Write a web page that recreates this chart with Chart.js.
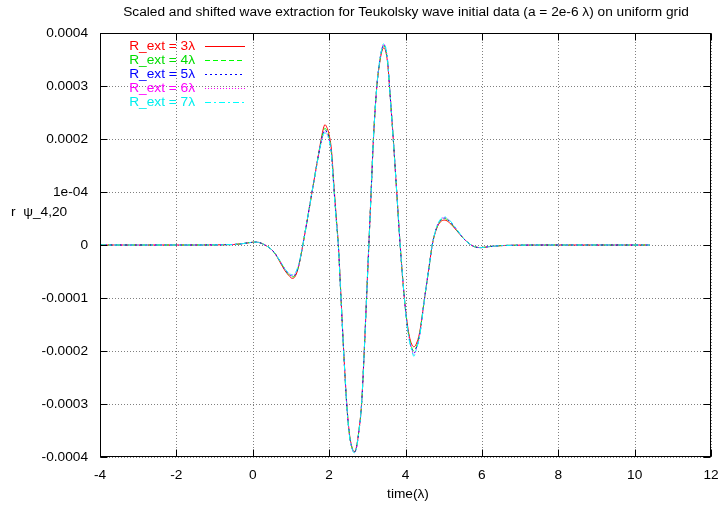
<!DOCTYPE html>
<html><head><meta charset="utf-8">
<script src="https://cdn.jsdelivr.net/npm/chart.js@4/dist/chart.umd.min.js"></script>
<style>html,body{margin:0;padding:0;background:#fff}canvas{display:block}</style>
</head><body>
<canvas id="c" width="722" height="506"></canvas>
<script>
const titleText = 'Scaled and shifted wave extraction for Teukolsky wave initial data (a = 2e-6 \u03bb) on uniform grid';
const xLabel = 'time(\u03bb)';
const yLabel = 'r  \u03c8_4,20';
const seriesNames = ['R_ext = 3\u03bb','R_ext = 4\u03bb','R_ext = 5\u03bb','R_ext = 6\u03bb','R_ext = 7\u03bb'];
const xTickValues = [-4,-2,0,2,4,6,8,10,12];
const xTickLabels = ['-4','-2','0','2','4','6','8','10','12'];
const yTickValues = [-0.0004,-0.0003,-0.0002,-0.0001,0,0.0001,0.0002,0.0003,0.0004];
const yTickLabels = ['-0.0004','-0.0003','-0.0002','-0.0001','0','1e-04','0.0002','0.0003','0.0004'];

const times = [-4,-3,-2,-1.5,-1,-0.75,-0.5,-0.3,-0.15,0,0.07,0.15,0.25,0.33,0.45,0.55,0.65,0.75,0.85,0.95,
1.04,1.12,1.2,1.25,1.3,1.4,1.5,1.6,1.7,1.78,1.84,1.89,1.94,2.0,2.06,2.13,2.2,2.24,2.31,2.38,
2.46,2.53,2.6,2.655,2.71,2.78,2.85,2.92,2.98,3.04,3.1,3.16,3.25,3.32,3.38,3.43,3.48,3.54,3.58,3.68,
3.77,3.86,3.97,4.04,4.1,4.16,4.22,4.28,4.37,4.5,4.63,4.7,4.81,4.92,5.03,5.15,5.33,5.51,5.68,5.8,
5.96,6.2,6.5,7,7.5,8,9,10,10.4];

const r3 = [0,0,0,0,0.002e-4,0.005e-4,0.01e-4,0.022e-4,0.038e-4,0.052e-4,0.056e-4,0.05e-4,0.025e-4,-0.005e-4,-0.06e-4,-0.13e-4,-0.24e-4,-0.37e-4,-0.49e-4,-0.58e-4,
-0.63e-4,-0.58e-4,-0.41e-4,-0.24e-4,-0.05e-4,0.36e-4,0.78e-4,1.20e-4,1.62e-4,1.95e-4,2.17e-4,2.27e-4,2.22e-4,2.08e-4,1.80e-4,1.08e-4,0.40e-4,0.03e-4,-0.97e-4,-1.98e-4,
-2.98e-4,-3.55e-4,-3.82e-4,-3.90e-4,-3.83e-4,-3.50e-4,-3.00e-4,-2.00e-4,-1.00e-4,0.0,1.0e-4,2.0e-4,3.0e-4,3.42e-4,3.65e-4,3.72e-4,3.66e-4,3.38e-4,3.0e-4,2.0e-4,
1.0e-4,0.0,-1.0e-4,-1.45e-4,-1.72e-4,-1.87e-4,-1.92e-4,-1.87e-4,-1.65e-4,-1.0e-4,-0.35e-4,0.0,0.30e-4,0.44e-4,0.47e-4,0.42e-4,0.28e-4,0.13e-4,0.02e-4,-0.03e-4,
-0.05e-4,-0.03e-4,-0.012e-4,-0.003e-4,0,0,0,0,0];

const r4 = [0,0,0,0,0.002e-4,0.005e-4,0.01e-4,0.022e-4,0.038e-4,0.052e-4,0.056e-4,0.05e-4,0.025e-4,-0.005e-4,-0.06e-4,-0.13e-4,-0.23e-4,-0.35e-4,-0.47e-4,-0.56e-4,
-0.60e-4,-0.56e-4,-0.40e-4,-0.23e-4,-0.04e-4,0.36e-4,0.78e-4,1.20e-4,1.61e-4,1.92e-4,2.12e-4,2.20e-4,2.16e-4,2.03e-4,1.74e-4,1.03e-4,0.37e-4,0.0,-1.0e-4,-2.0e-4,
-3.0e-4,-3.57e-4,-3.83e-4,-3.91e-4,-3.84e-4,-3.51e-4,-3.0e-4,-2.0e-4,-1.0e-4,0.0,1.0e-4,2.0e-4,3.0e-4,3.44e-4,3.68e-4,3.76e-4,3.69e-4,3.40e-4,3.0e-4,2.0e-4,
1.0e-4,0.0,-1.0e-4,-1.48e-4,-1.76e-4,-1.93e-4,-2.00e-4,-1.93e-4,-1.68e-4,-1.0e-4,-0.35e-4,0.0,0.31e-4,0.46e-4,0.50e-4,0.44e-4,0.29e-4,0.13e-4,0.02e-4,-0.03e-4,
-0.05e-4,-0.03e-4,-0.012e-4,-0.003e-4,0,0,0,0,0];

const r5 = [0,0,0,0,0.002e-4,0.005e-4,0.01e-4,0.022e-4,0.038e-4,0.052e-4,0.056e-4,0.05e-4,0.025e-4,-0.005e-4,-0.06e-4,-0.13e-4,-0.23e-4,-0.35e-4,-0.47e-4,-0.55e-4,
-0.585e-4,-0.55e-4,-0.39e-4,-0.23e-4,-0.04e-4,0.36e-4,0.78e-4,1.20e-4,1.61e-4,1.91e-4,2.10e-4,2.17e-4,2.13e-4,2.01e-4,1.73e-4,1.02e-4,0.36e-4,0.0,-1.0e-4,-2.0e-4,
-3.0e-4,-3.57e-4,-3.83e-4,-3.91e-4,-3.84e-4,-3.51e-4,-3.0e-4,-2.0e-4,-1.0e-4,0.0,1.0e-4,2.0e-4,3.0e-4,3.45e-4,3.69e-4,3.78e-4,3.71e-4,3.41e-4,3.0e-4,2.0e-4,
1.0e-4,0.0,-1.0e-4,-1.49e-4,-1.78e-4,-1.95e-4,-2.04e-4,-1.95e-4,-1.70e-4,-1.0e-4,-0.35e-4,0.0,0.32e-4,0.47e-4,0.51e-4,0.45e-4,0.30e-4,0.13e-4,0.02e-4,-0.03e-4,
-0.05e-4,-0.03e-4,-0.012e-4,-0.003e-4,0,0,0,0,0];

const r6 = [0,0,0,0,0.002e-4,0.005e-4,0.01e-4,0.022e-4,0.038e-4,0.052e-4,0.056e-4,0.05e-4,0.025e-4,-0.005e-4,-0.06e-4,-0.13e-4,-0.23e-4,-0.34e-4,-0.46e-4,-0.54e-4,
-0.57e-4,-0.54e-4,-0.38e-4,-0.22e-4,-0.04e-4,0.36e-4,0.78e-4,1.20e-4,1.60e-4,1.90e-4,2.08e-4,2.14e-4,2.10e-4,1.99e-4,1.72e-4,1.01e-4,0.36e-4,0.0,-1.0e-4,-2.0e-4,
-3.0e-4,-3.58e-4,-3.84e-4,-3.92e-4,-3.85e-4,-3.52e-4,-3.0e-4,-2.0e-4,-1.0e-4,0.0,1.0e-4,2.0e-4,3.0e-4,3.46e-4,3.70e-4,3.79e-4,3.72e-4,3.42e-4,3.0e-4,2.0e-4,
1.0e-4,0.0,-1.0e-4,-1.50e-4,-1.79e-4,-1.97e-4,-2.07e-4,-1.97e-4,-1.71e-4,-1.0e-4,-0.35e-4,0.0,0.32e-4,0.48e-4,0.52e-4,0.46e-4,0.30e-4,0.13e-4,0.02e-4,-0.03e-4,
-0.05e-4,-0.03e-4,-0.012e-4,-0.003e-4,0,0,0,0,0];

const r7 = [0,0,0,0,0.002e-4,0.005e-4,0.01e-4,0.022e-4,0.038e-4,0.052e-4,0.056e-4,0.05e-4,0.025e-4,-0.005e-4,-0.06e-4,-0.13e-4,-0.23e-4,-0.34e-4,-0.46e-4,-0.53e-4,
-0.56e-4,-0.52e-4,-0.37e-4,-0.22e-4,-0.04e-4,0.36e-4,0.78e-4,1.20e-4,1.60e-4,1.90e-4,2.06e-4,2.12e-4,2.08e-4,1.98e-4,1.71e-4,1.00e-4,0.35e-4,0.0,-1.0e-4,-2.0e-4,
-3.0e-4,-3.58e-4,-3.84e-4,-3.92e-4,-3.85e-4,-3.52e-4,-3.0e-4,-2.0e-4,-1.0e-4,0.0,1.0e-4,2.0e-4,3.0e-4,3.46e-4,3.70e-4,3.80e-4,3.73e-4,3.42e-4,3.0e-4,2.0e-4,
1.0e-4,0.0,-1.0e-4,-1.51e-4,-1.80e-4,-1.98e-4,-2.10e-4,-1.98e-4,-1.72e-4,-1.0e-4,-0.35e-4,0.0,0.33e-4,0.49e-4,0.53e-4,0.47e-4,0.31e-4,0.13e-4,0.02e-4,-0.03e-4,
-0.05e-4,-0.03e-4,-0.012e-4,-0.003e-4,0,0,0,0,0];

const seriesValues = [r3, r4, r5, r6, r7];
const colors = ['#ff0000','#00ff00','#0000ff','#ff00ff','#00ffff'];
const textColors = ['#ff0000','#00dd00','#0000ff','#ff00ff','#00eeee'];
const dashes = [[], [5,3], [2,3], [1,2], [6,3,2,3]];

const FAMILY = "'Liberation Sans', Arial, sans-serif";
const FSIZE = 13.7;
const FONT = FSIZE + "px " + FAMILY;

const datasets = seriesValues.map((vals, i) => ({
  label: seriesNames[i],
  data: times.map((t, j) => ({x: t, y: vals[j]})),
  borderColor: colors[i],
  borderWidth: 1,
  borderDash: dashes[i],
  pointRadius: 0,
  fill: false,
  cubicInterpolationMode: 'monotone',
  order: 5 - i
}));

function pxX(chart, v) { return Math.round(chart.scales.x.getPixelForValue(v)) + 0.5; }
function pxY(chart, v) { return Math.round(chart.scales.y.getPixelForValue(v)) + 0.5; }

const gridPlugin = {
  id: 'dotgrid',
  beforeDatasetsDraw(chart) {
    const ctx = chart.ctx;
    const a = chart.chartArea;
    ctx.save();
    ctx.strokeStyle = '#808080';
    ctx.lineWidth = 1;
    ctx.setLineDash([1, 2]);
    ctx.beginPath();
    for (const v of xTickValues) {
      const px = pxX(chart, v);
      ctx.moveTo(px, a.top); ctx.lineTo(px, a.bottom);
    }
    for (const v of yTickValues) {
      const py = pxY(chart, v);
      ctx.moveTo(a.left, py); ctx.lineTo(a.right, py);
    }
    ctx.stroke();
    ctx.restore();
  }
};

const decor = {
  id: 'decor',
  afterDatasetsDraw(chart) {
    const ctx = chart.ctx;
    const a = chart.chartArea;
    ctx.save();
    ctx.strokeStyle = '#000';
    ctx.lineWidth = 1;
    ctx.setLineDash([]);
    const L = Math.round(a.left) + 0.5, R = Math.round(a.right) - 0.5;
    const T = Math.round(a.top) + 0.5, B = Math.round(a.bottom) - 0.5;
    ctx.strokeRect(L, T, R - L, B - T);
    const tl = 7;
    ctx.beginPath();
    for (const v of xTickValues) {
      const px = pxX(chart, v);
      ctx.moveTo(px, B); ctx.lineTo(px, B - tl);
      ctx.moveTo(px, T); ctx.lineTo(px, T + tl);
    }
    for (const v of yTickValues) {
      const py = pxY(chart, v);
      ctx.moveTo(L, py); ctx.lineTo(L + tl, py);
      ctx.moveTo(R, py); ctx.lineTo(R - tl, py);
    }
    ctx.stroke();
    ctx.font = FONT;
    ctx.textBaseline = 'middle';
    ctx.textAlign = 'right';
    seriesNames.forEach((name, i) => {
      const y = 46 + i * 14;
      ctx.fillStyle = textColors[i];
      ctx.fillText(name, 195, y);
      ctx.strokeStyle = colors[i];
      ctx.setLineDash(dashes[i]);
      ctx.beginPath();
      ctx.moveTo(205, y + 0.5); ctx.lineTo(245, y + 0.5);
      ctx.stroke();
    });
    ctx.setLineDash([]);
    ctx.fillStyle = '#000';
    ctx.textAlign = 'center';
    ctx.fillText(titleText, 406, 12);
    ctx.fillText(xLabel, 408, 494);
    ctx.textAlign = 'left';
    ctx.fillText(yLabel, 11, 212);
    ctx.restore();
  }
};

new Chart(document.getElementById('c'), {
  type: 'line',
  data: { datasets },
  options: {
    responsive: false,
    animation: false,
    events: [],
    layout: { padding: { left: 0, top: 33, right: 11, bottom: 0 } },
    plugins: { legend: { display: false }, tooltip: { enabled: false }, title: { display: false } },
    scales: {
      x: {
        type: 'linear', min: -4, max: 12,
        afterFit(s) { s.height = 49; s.paddingLeft = 0; s.paddingRight = 0; },
        ticks: { stepSize: 2, padding: 10, color: '#000', font: { family: FAMILY, size: FSIZE },
          callback: (v, i) => xTickLabels[i], maxRotation: 0, autoSkip: false },
        grid: { display: false, drawTicks: false },
        border: { display: false }
      },
      y: {
        type: 'linear', min: -0.0004, max: 0.0004,
        afterFit(s) { s.width = 100; s.paddingTop = 0; s.paddingBottom = 0; },
        ticks: { stepSize: 0.0001, padding: 12, color: '#000', font: { family: FAMILY, size: FSIZE },
          callback: (v, i) => yTickLabels[i], autoSkip: false },
        grid: { display: false, drawTicks: false },
        border: { display: false }
      }
    }
  },
  plugins: [gridPlugin, decor]
});
</script>
</body></html>
